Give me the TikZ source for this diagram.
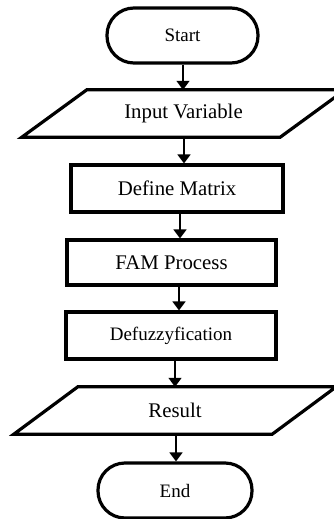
\documentclass[tikz,border=0pt]{standalone}
\usepackage{fontspec}
\setmainfont{Liberation Serif}
\usetikzlibrary{arrows.meta}
\begin{document}
\begin{tikzpicture}[x=1pt,y=-1pt,
  box/.style={draw=black,line width=3.2pt,rectangle,inner sep=0pt,font=\fontsize{20.8}{24}\selectfont},
  term/.style={box,rounded corners=27pt,font=\fontsize{19}{22}\selectfont},
  para/.style={rectangle,inner sep=0pt,minimum width=258pt,minimum height=47pt,font=\fontsize{20.8}{24}\selectfont},
  pline/.style={draw=black,line width=3.2pt,line join=miter},
  arr/.style={draw=black,line width=1.6pt,-{Triangle[width=13pt,length=9pt]}}]
\useasboundingbox (0,0) rectangle (334,519);
\clip (0,0) rectangle (334,519);
\fill[white] (0,0) rectangle (334,519);
\node[term,minimum width=151pt,minimum height=55pt] (start) at (182.5,35.5) {Start};
\node[para] (in) at (183.5,113.5) {Input Variable};
\draw[pline] ([xshift=32.5pt]in.north west) -- ([xshift=32.5pt]in.north east) -- ([xshift=-32.5pt]in.south east) -- ([xshift=-32.5pt]in.south west) -- cycle;
\node[box,minimum width=212pt,minimum height=47pt] (dm) at (177,188.5) {Define Matrix};
\node[box,minimum width=209pt,minimum height=45pt] (fam) at (171.5,262.5) {FAM Process};
\node[box,minimum width=210pt,minimum height=47pt,font=\fontsize{19}{22}\selectfont] (def) at (171,335.5) {Defuzzyfication};
\node[para] (res) at (175,410.5) {Result};
\draw[pline] ([xshift=32pt]res.north west) -- ([xshift=32pt]res.north east) -- ([xshift=-32pt]res.south east) -- ([xshift=-32pt]res.south west) -- cycle;
\node[term,minimum width=154pt,minimum height=55pt] (end) at (175,490.5) {End};
\draw[arr] (start.south -| 183,0) -- (in.north -| 183,0);
\draw[arr] (in.south -| 184,0) -- (dm.north -| 184,0);
\draw[arr] (dm.south -| 180,0) -- (fam.north -| 180,0);
\draw[arr] (fam.south -| 179,0) -- (def.north -| 179,0);
\draw[arr] (def.south -| 175,0) -- (res.north -| 175,0);
\draw[arr] (res.south -| 176,0) -- (end.north -| 176,0);
\end{tikzpicture}
\end{document}
